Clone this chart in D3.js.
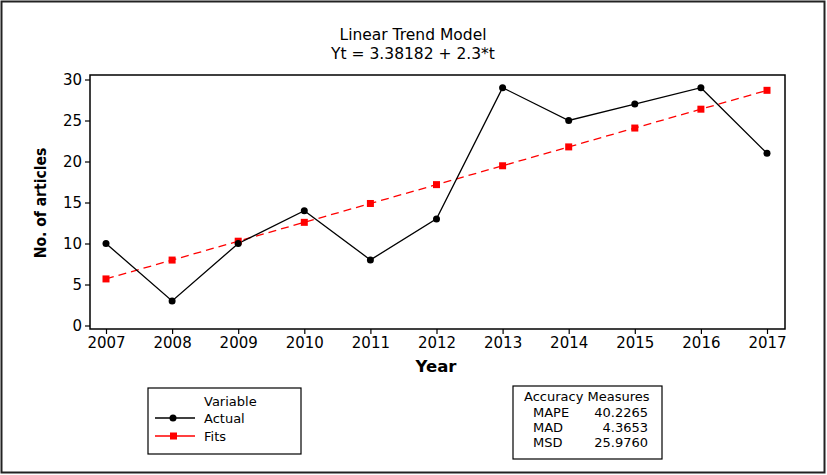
<!DOCTYPE html>
<html><head><meta charset="utf-8">
<script src="https://cdn.jsdelivr.net/npm/d3@7"></script>
<style>body{margin:0;background:#fff}svg{display:block}</style>
</head><body>
<svg id="c" width="827" height="475"></svg>
<script>
const years = [2007,2008,2009,2010,2011,2012,2013,2014,2015,2016,2017];
const actual = [10,3,10,14,8,13,29,25,27,29,21];
const fits = [5.68,7.98,10.28,12.58,14.88,17.18,19.48,21.78,24.08,26.38,28.68];
const yTicks = [0,5,10,15,20,25,30];
const titleLines = ["Linear Trend Model","Yt = 3.38182 + 2.3*t"];
const measureNames = ["MAPE","MAD","MSD"];
const measureValues = ["40.2265","4.3653","25.9760"];
const legendNames = ["Actual","Fits"];

const svg = d3.select("#c");
const font = "'DejaVu Sans',sans-serif";
const cfont = "'DejaVu Sans Condensed','DejaVu Sans',sans-serif";
svg.append("rect").attr("x",1.5).attr("y",1.5).attr("width",823).attr("height",471)
  .attr("fill","#fff").attr("stroke","#222").attr("stroke-width",2);

const frame = {l:90,r:785,t:75,b:329};
const x = d3.scalePoint().domain(years).range([106,767]);
const y = d3.scaleLinear().domain([0,30]).range([325.5,79.5]);

titleLines.forEach((t,i)=>svg.append("text").attr("x",413).attr("y",40+i*18.5)
  .attr("text-anchor","middle").attr("font-family",font).attr("font-size",15.5).text(t));

svg.append("rect").attr("x",frame.l).attr("y",frame.t).attr("width",frame.r-frame.l).attr("height",frame.b-frame.t)
  .attr("fill","none").attr("stroke","#000").attr("stroke-width",1.5);

const ya = svg.append("g").attr("transform",`translate(${frame.l},0)`)
  .call(d3.axisLeft(y).tickValues(yTicks).tickSize(5).tickPadding(3));
ya.select(".domain").remove();
const xa = svg.append("g").attr("transform",`translate(0,${frame.b})`)
  .call(d3.axisBottom(x).tickSize(5).tickPadding(3).tickFormat(d3.format("d")));
xa.select(".domain").remove();
[ya,xa].forEach(a=>{a.selectAll("text").attr("font-family",font).attr("font-size",15).attr("fill","#000");
  a.selectAll("line").attr("stroke","#000").attr("stroke-width",1.2);});

svg.append("text").attr("transform","translate(46,203) rotate(-90)").attr("text-anchor","middle")
  .attr("font-family",cfont).attr("font-weight","bold").attr("font-size",15.5).text("No. of articles");
svg.append("text").attr("x",436).attr("y",372).attr("text-anchor","middle")
  .attr("font-family",font).attr("font-weight","bold").attr("font-size",16.5).text("Year");

const line = d3.line().x((d,i)=>x(years[i])).y(d=>y(d));
svg.append("path").datum(fits).attr("d",line).attr("fill","none").attr("stroke","#ff0000")
  .attr("stroke-width",1.3).attr("stroke-dasharray","8,5");
svg.append("path").datum(actual).attr("d",line).attr("fill","none").attr("stroke","#000").attr("stroke-width",1.3);
svg.selectAll(".sq").data(fits).enter().append("rect")
  .attr("x",(d,i)=>x(years[i])-3.5).attr("y",d=>y(d)-3.5).attr("width",7).attr("height",7).attr("fill","#ff0000");
svg.selectAll(".dot").data(actual).enter().append("circle")
  .attr("cx",(d,i)=>x(years[i])).attr("cy",d=>y(d)).attr("r",3.5).attr("fill","#000");

// legend
const lg = svg.append("g");
lg.append("rect").attr("x",148).attr("y",388).attr("width",153).attr("height",66)
  .attr("fill","#fff").attr("stroke","#000").attr("stroke-width",1.2);
lg.append("text").attr("x",204).attr("y",406).attr("font-family",font).attr("font-size",13).text("Variable");
legendNames.forEach((n,i)=>{
  const cy = 418+i*18;
  lg.append("line").attr("x1",155).attr("x2",195).attr("y1",cy).attr("y2",cy)
    .attr("stroke",i?"#ff0000":"#000").attr("stroke-width",1.3);
  if(i) lg.append("rect").attr("x",170).attr("y",cy-3.5).attr("width",7).attr("height",7).attr("fill","#ff0000");
  else lg.append("circle").attr("cx",173).attr("cy",cy).attr("r",3.5).attr("fill","#000");
  lg.append("text").attr("x",204).attr("y",cy+5).attr("font-family",font).attr("font-size",13).text(n);
});

// accuracy
const ac = svg.append("g");
ac.append("rect").attr("x",513).attr("y",386).attr("width",149).attr("height",73)
  .attr("fill","#fff").attr("stroke","#000").attr("stroke-width",1.2);
ac.append("text").attr("x",524).attr("y",401).attr("font-family",font).attr("font-size",13).text("Accuracy Measures");
measureNames.forEach((n,i)=>{
  const by = 417+i*15;
  ac.append("text").attr("x",533).attr("y",by).attr("font-family",font).attr("font-size",13).text(n);
  ac.append("text").attr("x",648).attr("y",by).attr("text-anchor","end").attr("font-family",font).attr("font-size",13).text(measureValues[i]);
});
</script>
</body></html>
